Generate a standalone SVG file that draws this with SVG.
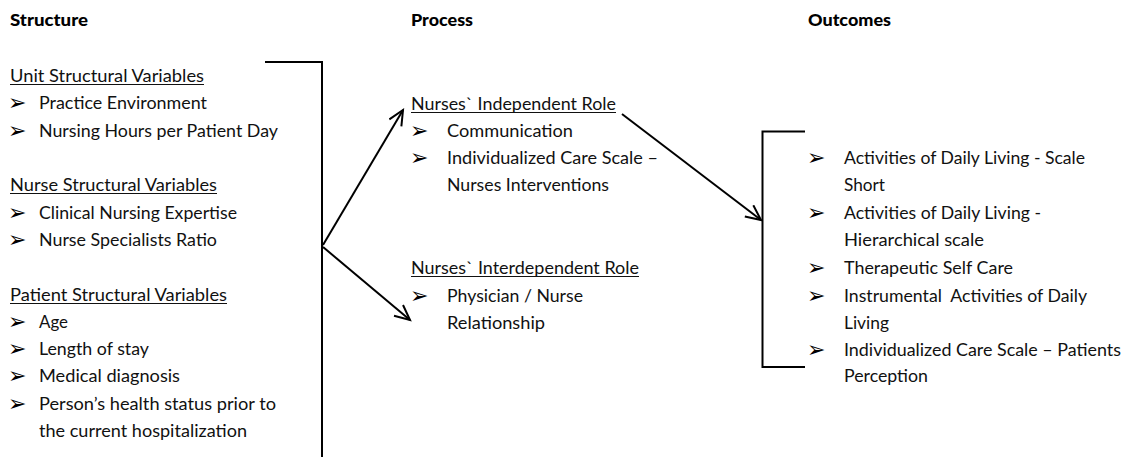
<svg xmlns="http://www.w3.org/2000/svg" width="1132" height="457" viewBox="0 0 1132 457">
  <style>
    .t { font-family: Lato, "Open Sans", "Liberation Sans", sans-serif; font-size: 17.5px; fill: #111; }
    .h { font-family: Lato, "Open Sans", "Liberation Sans", sans-serif; font-size: 17.5px; font-weight: 900; fill: #000; }
    .b { font-family: "DejaVu Sans", sans-serif; font-size: 22px; fill: #000; }
    .u { stroke: #111; stroke-width: 1.2; }
    .ln { stroke: #000; stroke-width: 2; fill: none; }
  </style>
  <defs>
    <marker id="open" markerUnits="userSpaceOnUse" markerWidth="20" markerHeight="20" refX="16" refY="8" orient="auto">
      <path d="M1,1 L16,8 L1,15" fill="none" stroke="#000" stroke-width="2"/>
    </marker>
  </defs>
  <rect width="1132" height="457" fill="#fff"/>

  <!-- column headings -->
  <g id="headings">
    <text class="h" x="10" y="26" textLength="78" lengthAdjust="spacingAndGlyphs">Structure</text>
    <text class="h" x="411" y="26" textLength="62" lengthAdjust="spacingAndGlyphs">Process</text>
    <text class="h" x="808" y="26" textLength="83" lengthAdjust="spacingAndGlyphs">Outcomes</text>
  </g>

  <!-- structure column -->
  <g id="structure">
    <text class="t" x="10" y="82" textLength="194" lengthAdjust="spacingAndGlyphs">Unit Structural Variables</text>
    <line class="u" x1="10" y1="84.5" x2="204" y2="84.5"/>
    <text class="b" x="8" y="110">➢</text>
    <text class="t" x="39" y="109" textLength="168" lengthAdjust="spacingAndGlyphs">Practice Environment</text>
    <text class="b" x="8" y="137.5">➢</text>
    <text class="t" x="39" y="136.5" textLength="239" lengthAdjust="spacingAndGlyphs">Nursing Hours per Patient Day</text>

    <text class="t" x="10" y="191" textLength="207" lengthAdjust="spacingAndGlyphs">Nurse Structural Variables</text>
    <line class="u" x1="10" y1="193.5" x2="217" y2="193.5"/>
    <text class="b" x="8" y="219.5">➢</text>
    <text class="t" x="39" y="218.5" textLength="198" lengthAdjust="spacingAndGlyphs">Clinical Nursing Expertise</text>
    <text class="b" x="8" y="247">➢</text>
    <text class="t" x="39" y="246" textLength="178" lengthAdjust="spacingAndGlyphs">Nurse Specialists Ratio</text>

    <text class="t" x="10" y="301" textLength="217" lengthAdjust="spacingAndGlyphs">Patient Structural Variables</text>
    <line class="u" x1="10" y1="303.5" x2="227" y2="303.5"/>
    <text class="b" x="8" y="329">➢</text>
    <text class="t" x="39" y="328" textLength="29" lengthAdjust="spacingAndGlyphs">Age</text>
    <text class="b" x="8" y="356">➢</text>
    <text class="t" x="39" y="355" textLength="110" lengthAdjust="spacingAndGlyphs">Length of stay</text>
    <text class="b" x="8" y="383">➢</text>
    <text class="t" x="39" y="382" textLength="141" lengthAdjust="spacingAndGlyphs">Medical diagnosis</text>
    <text class="b" x="8" y="410.5">➢</text>
    <text class="t" x="39" y="409.5" textLength="237" lengthAdjust="spacingAndGlyphs">Person’s health status prior to</text>
    <text class="t" x="39" y="436.5" textLength="208" lengthAdjust="spacingAndGlyphs">the current hospitalization</text>
  </g>

  <!-- process column: independent role -->
  <g id="independent-role">
    <text class="t" x="411" y="110" textLength="205" lengthAdjust="spacingAndGlyphs">Nurses` Independent Role</text>
    <line class="u" x1="411" y1="112.5" x2="616" y2="112.5"/>
    <text class="b" x="410" y="137.5">➢</text>
    <text class="t" x="447" y="136.5" textLength="126" lengthAdjust="spacingAndGlyphs">Communication</text>
    <text class="b" x="410" y="165">➢</text>
    <text class="t" x="447" y="164" textLength="211" lengthAdjust="spacingAndGlyphs">Individualized Care Scale –</text>
    <text class="t" x="447" y="190.5" textLength="162" lengthAdjust="spacingAndGlyphs">Nurses Interventions</text>
  </g>

  <!-- process column: interdependent role -->
  <g id="interdependent-role">
    <text class="t" x="411" y="274" textLength="228" lengthAdjust="spacingAndGlyphs">Nurses` Interdependent Role</text>
    <line class="u" x1="411" y1="276.5" x2="639" y2="276.5"/>
    <text class="b" x="410" y="302.5">➢</text>
    <text class="t" x="447" y="301.5" textLength="136" lengthAdjust="spacingAndGlyphs">Physician / Nurse</text>
    <text class="t" x="447" y="328.5" textLength="98" lengthAdjust="spacingAndGlyphs">Relationship</text>
  </g>

  <!-- outcomes column -->
  <g id="outcomes">
    <text class="b" x="807" y="165">➢</text>
    <text class="t" x="844" y="164" textLength="241" lengthAdjust="spacingAndGlyphs">Activities of Daily Living - Scale</text>
    <text class="t" x="844" y="190.5" textLength="41" lengthAdjust="spacingAndGlyphs">Short</text>
    <text class="b" x="807" y="220">➢</text>
    <text class="t" x="844" y="219" textLength="197" lengthAdjust="spacingAndGlyphs">Activities of Daily Living -</text>
    <text class="t" x="844" y="245.5" textLength="140" lengthAdjust="spacingAndGlyphs">Hierarchical scale</text>
    <text class="b" x="807" y="275">➢</text>
    <text class="t" x="844" y="274" textLength="169" lengthAdjust="spacingAndGlyphs">Therapeutic Self Care</text>
    <text class="b" x="807" y="302.5">➢</text>
    <text class="t" x="844" y="301.5" textLength="243" lengthAdjust="spacingAndGlyphs" xml:space="preserve">Instrumental  Activities of Daily</text>
    <text class="t" x="844" y="328.5" textLength="45" lengthAdjust="spacingAndGlyphs">Living</text>
    <text class="b" x="807" y="357">➢</text>
    <text class="t" x="844" y="356" textLength="277" lengthAdjust="spacingAndGlyphs">Individualized Care Scale – Patients</text>
    <text class="t" x="844" y="382" textLength="84" lengthAdjust="spacingAndGlyphs">Perception</text>
  </g>

  <!-- brackets and arrows -->
  <g id="connectors">
    <polyline class="ln" points="265,62 322,62 322,457"/>
    <polyline class="ln" points="805,131.5 762.5,131.5 762.5,367 805,367"/>
    <line class="ln" x1="323" y1="245" x2="403" y2="110" marker-end="url(#open)"/>
    <line class="ln" x1="323" y1="247" x2="410" y2="320" marker-end="url(#open)"/>
    <line class="ln" x1="622" y1="114" x2="761" y2="220" marker-end="url(#open)"/>
  </g>
</svg>
